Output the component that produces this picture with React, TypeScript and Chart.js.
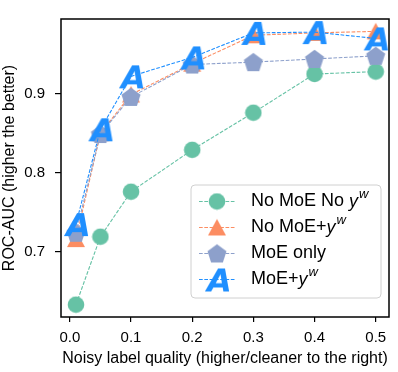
import React, { useEffect, useRef } from 'react';
import { Chart, registerables } from 'chart.js';

Chart.register(...registerables);

// ---- data ----
const noiseLevels = [0.01, 0.05, 0.1, 0.2, 0.3, 0.4, 0.5];
const noMoeNoYw = [0.633, 0.719, 0.776, 0.829, 0.876, 0.925, 0.928];
const noMoeYw = [0.716, 0.85, 0.899, 0.938, 0.974, 0.977, 0.979];
const moeOnly = [0.724, 0.849, 0.896, 0.937, 0.94, 0.944, 0.948];
const moeYw = [0.735, 0.855, 0.922, 0.946, 0.977, 0.978, 0.97];
const xTickValues = [0, 0.1, 0.2, 0.3, 0.4, 0.5];
const yTickValues = [0.7, 0.8, 0.9];
const xTitle = 'Noisy label quality (higher/cleaner to the right)';
const yTitle = 'ROC-AUC (higher the better)';
// legend labels as text parts (italic y with superscript w)
const labelNoMoeNoYw = [{ t: 'No MoE No ' }, { t: 'y', it: true }, { t: 'w', it: true, sup: true }];
const labelNoMoeYw = [{ t: 'No MoE+' }, { t: 'y', it: true }, { t: 'w', it: true, sup: true }];
const labelMoeOnly = [{ t: 'MoE only' }];
const labelMoeYw = [{ t: 'MoE+' }, { t: 'y', it: true }, { t: 'w', it: true, sup: true }];

const GREEN = '#66c2a5';
const ORANGE = '#fc8d62';
const PURPLE = '#8da0cb';
const BLUE = '#1f8fff';
const FONT = '"Liberation Sans", Arial, Helvetica, sans-serif';

function makeCanvas(size: number) {
  const c = document.createElement('canvas');
  c.width = size;
  c.height = size;
  return c;
}

function makePentagon(color: string) {
  const c = makeCanvas(22);
  const g = c.getContext('2d')!;
  const r = 10;
  g.beginPath();
  for (let i = 0; i < 5; i++) {
    const a = -Math.PI / 2 + (i * 2 * Math.PI) / 5;
    const px = 11 + r * Math.cos(a);
    const py = 11.8 + r * Math.sin(a);
    if (i === 0) g.moveTo(px, py);
    else g.lineTo(px, py);
  }
  g.closePath();
  g.fillStyle = color;
  g.fill();
  return c;
}

function makeTriangle(color: string) {
  const c = makeCanvas(20);
  const g = c.getContext('2d')!;
  g.beginPath();
  g.moveTo(10, 1.5);
  g.lineTo(19, 18);
  g.lineTo(1, 18);
  g.closePath();
  g.fillStyle = color;
  g.fill();
  return c;
}

function makeCircle(color: string) {
  const c = makeCanvas(18);
  const g = c.getContext('2d')!;
  g.beginPath();
  g.arc(9, 9, 8.3, 0, Math.PI * 2);
  g.fillStyle = color;
  g.fill();
  return c;
}

function makeLetter(color: string) {
  const S = 36;
  const c = makeCanvas(S);
  const g = c.getContext('2d')!;
  g.font = 'bold italic 32px "DejaVu Sans", sans-serif';
  const m = g.measureText('A');
  const w = m.actualBoundingBoxLeft + m.actualBoundingBoxRight;
  const h = m.actualBoundingBoxAscent + m.actualBoundingBoxDescent;
  g.fillStyle = color;
  g.textAlign = 'left';
  g.textBaseline = 'alphabetic';
  g.fillText('A', (S - w) / 2 + m.actualBoundingBoxLeft, (S - h) / 2 + m.actualBoundingBoxAscent);
  return c;
}

export default function App() {
  const ref = useRef<HTMLCanvasElement | null>(null);

  useEffect(() => {
    document.body.style.margin = '0';
    const canvas = ref.current;
    if (!canvas) return;

    const markers = {
      circle: makeCircle(GREEN),
      triangle: makeTriangle(ORANGE),
      pentagon: makePentagon(PURPLE),
      letter: makeLetter(BLUE),
    };

    const series = [
      { data: moeYw, color: BLUE, marker: markers.letter, label: labelMoeYw, order: 1 },
      { data: moeOnly, color: PURPLE, marker: markers.pentagon, label: labelMoeOnly, order: 2 },
      { data: noMoeYw, color: ORANGE, marker: markers.triangle, label: labelNoMoeYw, order: 3 },
      { data: noMoeNoYw, color: GREEN, marker: markers.circle, label: labelNoMoeNoYw, order: 4 },
    ];
    const legendOrder = [series[3], series[2], series[1], series[0]];

    const frameAndLegend = {
      id: 'frameAndLegend',
      afterDraw(chart: any) {
        const { ctx, chartArea } = chart;
        ctx.save();
        ctx.strokeStyle = '#000';
        ctx.lineWidth = 1.5;
        ctx.strokeRect(chartArea.left, chartArea.top, chartArea.right - chartArea.left, chartArea.bottom - chartArea.top);

        const w = 190;
        const h = 113;
        const x0 = chartArea.right - 8 - w;
        const y0 = chartArea.bottom - 19 - h;
        const r = 4;
        ctx.beginPath();
        ctx.moveTo(x0 + r, y0);
        ctx.arcTo(x0 + w, y0, x0 + w, y0 + h, r);
        ctx.arcTo(x0 + w, y0 + h, x0, y0 + h, r);
        ctx.arcTo(x0, y0 + h, x0, y0, r);
        ctx.arcTo(x0, y0, x0 + w, y0, r);
        ctx.closePath();
        ctx.fillStyle = 'rgba(255,255,255,0.8)';
        ctx.fill();
        ctx.strokeStyle = '#d0d0d0';
        ctx.lineWidth = 1;
        ctx.stroke();

        legendOrder.forEach((s, i) => {
          const y = y0 + 16.5 + i * 26;
          ctx.save();
          ctx.strokeStyle = s.color;
          ctx.lineWidth = 1.1;
          ctx.setLineDash([3.7, 1.6]);
          ctx.beginPath();
          ctx.moveTo(x0 + 8, y);
          ctx.lineTo(x0 + 45, y);
          ctx.stroke();
          ctx.restore();
          const mk = s.marker;
          ctx.drawImage(mk, x0 + 26 - mk.width / 2, y - mk.height / 2);

          let tx = x0 + 60;
          ctx.fillStyle = '#000';
          ctx.textBaseline = 'middle';
          ctx.textAlign = 'left';
          s.label.forEach((p: any) => {
            if (p.sup) {
              ctx.font = `italic 13px ${FONT}`;
              ctx.fillText(p.t, tx + 1, y - 7);
              tx += ctx.measureText(p.t).width + 1;
            } else {
              ctx.font = `${p.it ? 'italic ' : ''}18px ${FONT}`;
              ctx.fillText(p.t, tx, y);
              tx += ctx.measureText(p.t).width;
            }
          });
        });
        ctx.restore();
      },
    };

    const chart = new Chart(canvas, {
      type: 'line',
      data: {
        datasets: series.map((s) => ({
          data: noiseLevels.map((x, i) => ({ x, y: s.data[i] })),
          borderColor: s.color,
          backgroundColor: s.color,
          borderWidth: 1.1,
          borderDash: [3.7, 1.6],
          pointStyle: s.marker as any,
          pointRadius: 9,
          pointHoverRadius: 9,
          pointBorderWidth: 0,
          tension: 0,
          fill: false,
          order: s.order,
          clip: false as any,
        })),
      },
      options: {
        responsive: false,
        animation: false,
        devicePixelRatio: 1,
        layout: { padding: { top: 2, right: 3, left: 0, bottom: 0 } },
        plugins: { legend: { display: false }, tooltip: { enabled: false } },
        scales: {
          x: {
            type: 'linear',
            min: -0.01445,
            max: 0.5217,
            afterBuildTicks: (scale: any) => {
              scale.ticks = xTickValues.map((v) => ({ value: v }));
            },
            afterFit: (scale: any) => {
              scale.height = 55;
            },
            ticks: {
              color: '#000',
              font: { family: FONT, size: 15 },
              padding: 7,
              maxRotation: 0,
              callback: (v: any) => Number(v).toFixed(1),
            },
            grid: { display: true, drawOnChartArea: false, drawTicks: true, tickLength: 5, color: '#000', lineWidth: 1.2 },
            border: { display: false },
            title: { display: true, text: xTitle, color: '#000', font: { family: FONT, size: 16 }, padding: { top: 0, bottom: 4 } },
          },
          y: {
            type: 'linear',
            min: 0.6174,
            max: 0.9946,
            afterBuildTicks: (scale: any) => {
              scale.ticks = yTickValues.map((v) => ({ value: v }));
            },
            afterFit: (scale: any) => {
              scale.width = 61;
            },
            ticks: {
              color: '#000',
              font: { family: FONT, size: 15 },
              padding: 10,
              callback: (v: any) => Number(v).toFixed(1),
            },
            grid: { display: true, drawOnChartArea: false, drawTicks: true, tickLength: 6, color: '#000', lineWidth: 1.2 },
            border: { display: false },
            title: { display: true, text: yTitle, color: '#000', font: { family: FONT, size: 16 }, padding: { top: 0, bottom: 0 } },
          },
        },
      },
      plugins: [frameAndLegend],
    });

    return () => chart.destroy();
  }, []);

  return (
    <div style={{ position: 'absolute', left: 0, top: 0, width: 398, height: 372 }}>
      <canvas ref={ref} width={398} height={372} />
    </div>
  );
}
